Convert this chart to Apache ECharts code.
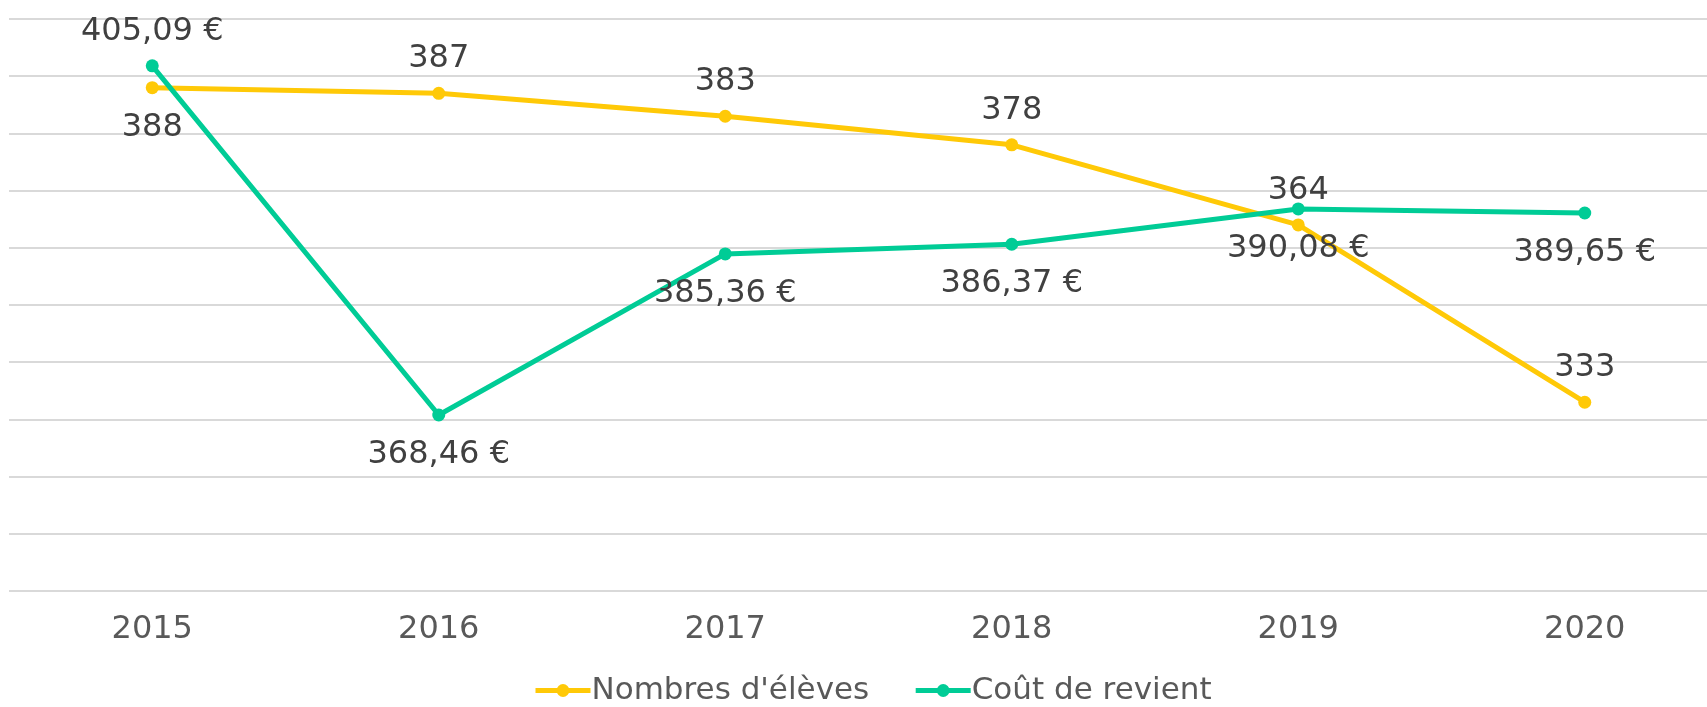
<!DOCTYPE html>
<html>
<head>
<meta charset="utf-8">
<script src="https://cdn.jsdelivr.net/npm/echarts@6/dist/echarts.min.js"></script>
<style>
html,body{margin:0;padding:0;background:#fff;}
#chart{width:1707px;height:707px;}
</style>
</head>
<body>
<div id="chart"></div>
<script>
const years = ['2015', '2016', '2017', '2018', '2019', '2020'];
const eleves = [388, 387, 383, 378, 364, 333];
const cout = [405.09, 368.46, 385.36, 386.37, 390.08, 389.65];
const elevesName = "Nombres d'élèves";
const coutName = 'Coût de revient';

const YELLOW = '#FFC907';
const GREEN = '#00CC96';
const FONT = 'DejaVu Sans';
const LABEL_COLOR = '#404040';

function labelPos(i, belowIdx) {
  return belowIdx.indexOf(i) >= 0 ? 'bottom' : 'top';
}

const chart = echarts.init(document.getElementById('chart'), null, { renderer: 'canvas' });
chart.setOption({
  animation: false,
  backgroundColor: '#ffffff',
  textStyle: { fontFamily: FONT },
  grid: { left: 9, top: 19, width: 1719, height: 572, containLabel: false, outerBoundsMode: 'none' },
  legend: {
    top: 670,
    left: 528,
    itemWidth: 55,
    itemHeight: 16,
    itemGap: 44,
    lineStyle: { width: 5 },
    textStyle: { fontFamily: FONT, fontSize: 31, color: '#595959', padding: [0, 0, 0, -4] },
    data: [elevesName, coutName]
  },
  xAxis: {
    type: 'category',
    data: years,
    boundaryGap: true,
    axisLine: { show: false },
    axisTick: { show: false },
    axisLabel: { fontFamily: FONT, fontSize: 32, color: '#595959', margin: 23 }
  },
  yAxis: [
    {
      type: 'value', min: 300, max: 400, interval: 10,
      axisLabel: { show: false }, axisLine: { show: false }, axisTick: { show: false },
      splitLine: { show: true, lineStyle: { color: '#d9d9d9', width: 2 } }
    },
    {
      type: 'value', min: 350, max: 410,
      axisLabel: { show: false }, axisLine: { show: false }, axisTick: { show: false },
      splitLine: { show: false }
    }
  ],
  series: [
    {
      name: elevesName,
      type: 'line',
      yAxisIndex: 0,
      data: eleves.map((v, i) => ({
        value: v,
        label: { position: labelPos(i, [0]), distance: labelPos(i, [0]) === 'bottom' ? 18 : 12 }
      })),
      symbol: 'circle',
      symbolSize: 13,
      itemStyle: { color: YELLOW },
      lineStyle: { color: YELLOW, width: 5 },
      label: {
        show: true,
        fontFamily: FONT, fontSize: 32, color: LABEL_COLOR,
        formatter: p => String(p.value)
      },
      z: 2
    },
    {
      name: coutName,
      type: 'line',
      yAxisIndex: 1,
      data: cout.map((v, i) => ({
        value: v,
        label: { position: labelPos(i, [1, 2, 3, 4, 5]), distance: labelPos(i, [1, 2, 3, 4, 5]) === 'bottom' ? 17 : 12 }
      })),
      symbol: 'circle',
      symbolSize: 13,
      itemStyle: { color: GREEN },
      lineStyle: { color: GREEN, width: 5 },
      label: {
        show: true,
        fontFamily: FONT, fontSize: 32, color: LABEL_COLOR,
        formatter: p => p.value.toFixed(2).replace('.', ',') + ' €'
      },
      z: 3
    }
  ]
});
</script>
</body>
</html>
